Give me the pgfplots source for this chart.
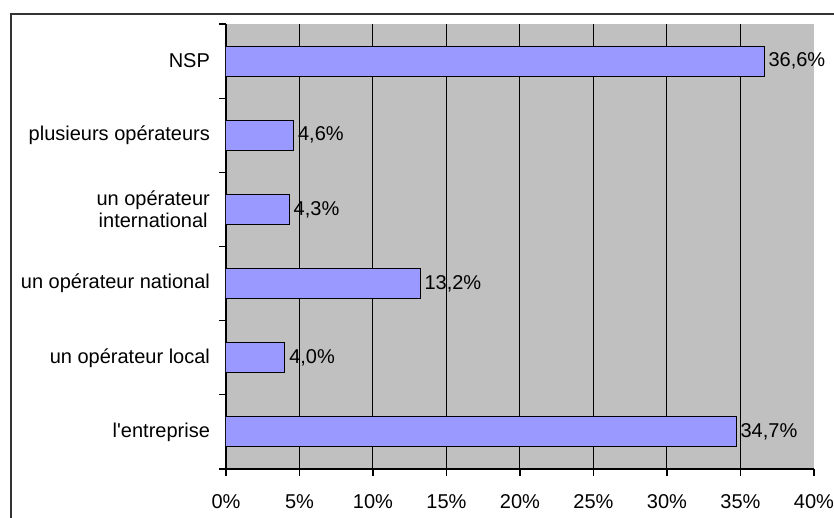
\documentclass[border=0pt]{standalone}
\usepackage{fontspec}
\setmainfont{Liberation Sans}
\usepackage{pgfplots}
\pgfplotsset{compat=1.18}
\definecolor{barblue}{HTML}{9999FF}
\definecolor{bggray}{HTML}{C0C0C0}
\begin{document}
\begin{tikzpicture}
 % page = 834x518 px at 0.5pt per px, axis box lower left at (226,469) px
 \useasboundingbox (-113pt,-24.5pt) rectangle (304pt,234.5pt);
 \draw[line width=0.8pt, black!80] (-107.5pt,-30pt) -- (-107.5pt,227.5pt) -- (310pt,227.5pt);
 \begin{axis}[
 at={(0,0)}, anchor=south west,
 scale only axis,
 width=294pt, height=222.5pt,
 xbar, bar width=15pt,
 xmin=0, xmax=40, ymin=-0.5, ymax=5.5,
 axis lines=left,
 axis line style={-, black, line width=0.6pt},
 axis background/.style={fill=bggray},
 tick align=outside,
 xtick={0,5,...,40},
 xticklabel={\pgfmathprintnumber{\tick}\%},
 major tick length=3.3pt,
 extra x ticks={5,10,...,35},
 extra x tick labels={},
 extra x tick style={grid=major, major tick length=0pt},
 grid style={black, line width=0.5pt},
 ytick={-0.5,0.5,...,5.5},
 yticklabels={},
 extra y ticks={0,1,2,3,4,5},
 extra y tick labels={l\textquotesingle entreprise, un opérateur local, un opérateur national, {un opérateur\\international}, plusieurs opérateurs, NSP},
 extra y tick style={major tick length=0pt},
 tick style={black, line width=0.6pt},
 tick label style={font=\fontsize{10}{10.8}\selectfont},
 yticklabel style={align=center, xshift=-4.5pt},
 xticklabel style={yshift=-6pt},
 /pgf/number format/assume math mode=true,
 nodes near coords={\pgfmathprintnumber[fixed,fixed zerofill,precision=1,use comma]{\pgfplotspointmeta}\%},
 nodes near coords style={anchor=west, inner sep=2pt, font=\fontsize{10}{10.8}\selectfont, black},
 ]
 \addplot[draw=black, line width=0.5pt, fill=barblue] coordinates {
 (34.7,0) (4.0,1) (13.2,2) (4.3,3) (4.6,4) (36.6,5)
 };
 \end{axis}
\end{tikzpicture}
\end{document}
